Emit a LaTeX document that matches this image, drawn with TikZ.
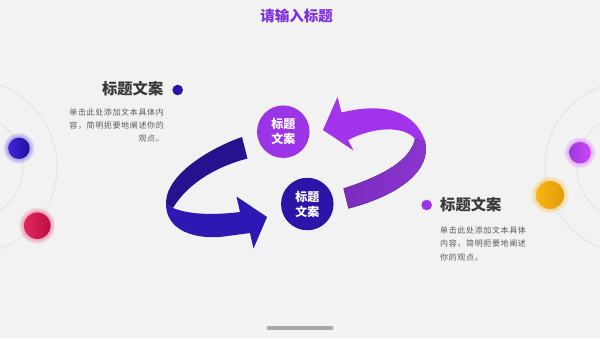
\documentclass[tikz,border=0pt]{standalone}
\usepackage{fontspec}
\setmainfont{Noto Sans CJK SC}
\definecolor{bg}{HTML}{F2F2F2}
\definecolor{ttl}{HTML}{7D2FE0}
\definecolor{head}{HTML}{383838}
\definecolor{para}{HTML}{595959}
\definecolor{arcc}{HTML}{DCDCDC}
\definecolor{indigo}{HTML}{2B14A8}
\definecolor{violet}{HTML}{9B33E6}
\definecolor{blueA}{HTML}{25128F}
\definecolor{blueB}{HTML}{2C19B4}
\definecolor{purA}{HTML}{A233EC}
\definecolor{purBl}{HTML}{7A2CBE}
\definecolor{purBr}{HTML}{8C36D2}
\definecolor{bbL}{HTML}{3C24DA}
\definecolor{bbR}{HTML}{22109A}
\definecolor{rbL}{HTML}{E2265E}
\definecolor{rbR}{HTML}{B8103F}
\definecolor{pbL}{HTML}{9A3AE0}
\definecolor{pbR}{HTML}{D244F8}
\definecolor{obL}{HTML}{F8B515}
\definecolor{obR}{HTML}{E09A0A}
\definecolor{barc}{HTML}{A8A8A8}
\tikzset{
  ball/.style={circle,inner sep=0pt,minimum size=#1},
  dotmark/.style={circle,inner sep=0pt,minimum size=10.6pt,fill=#1},
  headtxt/.style={inner sep=0pt,text=head,font=\fontsize{15.3}{18}\selectfont\bfseries},
  paratxt/.style={inner sep=0pt,text=para,font=\fontsize{8}{13.3}\selectfont\addfontfeatures{LetterSpace=8}},
  hub/.style={circle,inner sep=0pt,minimum size=52.5pt,fill=#1,text=white,align=center,
     font=\fontsize{12}{15}\selectfont\bfseries},
  orbit/.style={draw=arcc,line width=0.6pt}
}
\newcommand{\glow}[3]{\foreach \k in {1,...,6}{\fill[#1,opacity=0.07] #2 circle ({#3+\k*0.8});}}
\begin{document}
\begin{tikzpicture}[x=1pt,y=-1pt]
\useasboundingbox (0,0) rectangle (600,338);
\clip (0,0) rectangle (600,338);
\fill[bg] (0,0) rectangle (600,338);

% orbits
\draw[orbit] (-30,167) circle (87);
\draw[orbit] (-30,167) circle (53);
\draw[orbit] (630.7,167) circle (85.7);
\draw[orbit] (630.7,167) circle (54);

% balls with glow
\glow{bbL}{(19,148.3)}{10.7}
\node[ball=21.4pt,left color=bbL,right color=bbR] (b1) at (19,148.3) {};
\glow{rbL}{(37.3,225.7)}{13.3}
\node[ball=26.6pt,left color=rbL,right color=rbR] (b2) at (37.3,225.7) {};
\glow{pbR}{(580,152.7)}{10.8}
\node[ball=21.6pt,left color=pbL,right color=pbR] (b3) at (580,152.7) {};
\glow{obL}{(550,195)}{14}
\node[ball=28pt,left color=obL,right color=obR] (b4) at (550,195) {};

% title
\node[inner sep=0pt,text=ttl,font=\fontsize{14.5}{16}\selectfont\bfseries] (title) at (296.5,15.5) {请输入标题};

% left text block
\node[dotmark=indigo] (d1) at (177.7,90) {};
\node[headtxt,anchor=east] (h1) at (163.5,88.5) {标题文案};
\node[paratxt,anchor=north east,align=right] (p1) at (164,108.3) {单击此处添加文本具体内\\容，简明扼要地阐述你的\\观点。};

% right text block
\node[dotmark=violet] (d2) at (426.7,205) {};
\node[headtxt,anchor=west] (h2) at (440,205) {标题文案};
\node[paratxt,anchor=north west,align=left] (p2) at (440,226.7) {单击此处添加文本具体\\内容，简明扼要地阐述\\你的观点。};

% blue ribbon
\fill[blueA] (242,137) -- (247.5,158.5) .. controls (222,165) and (190,180) .. (173,208)
  -- (166,204) .. controls (165,175) and (210,148) .. (242,137) -- cycle;
\fill[blueB] (166,204) .. controls (166,228) and (190,239) .. (220,237) -- (250,233)
  -- (253.5,248.5) -- (267,217) -- (236.5,196.5) -- (240,212)
  .. controls (215,215) and (190,215) .. (173,208) -- cycle;

% purple ribbon
\fill[purA] (323,130) -- (337.5,97) -- (341.5,112.5) .. controls (372,105) and (412,104) .. (425,141)
  -- (415,139) .. controls (405,126) and (375,126) .. (348,140) -- (353.5,150.5) -- cycle;
\fill[left color=purBl,right color=purBr] (415,139) -- (425,141) .. controls (432,170) and (400,195) .. (348.5,208.5)
  -- (343.5,188.5) .. controls (385,175) and (410,160) .. (415,139) -- cycle;

% hubs
\node[hub=violet] (c1) at (283.3,131.7) {标题\\文案};
\node[hub=indigo] (c2) at (307.3,204) {标题\\文案};

% bottom bar
\draw[barc,line width=3.5pt,line cap=round] (268.5,328) -- (331.5,328);
\end{tikzpicture}
\end{document}
